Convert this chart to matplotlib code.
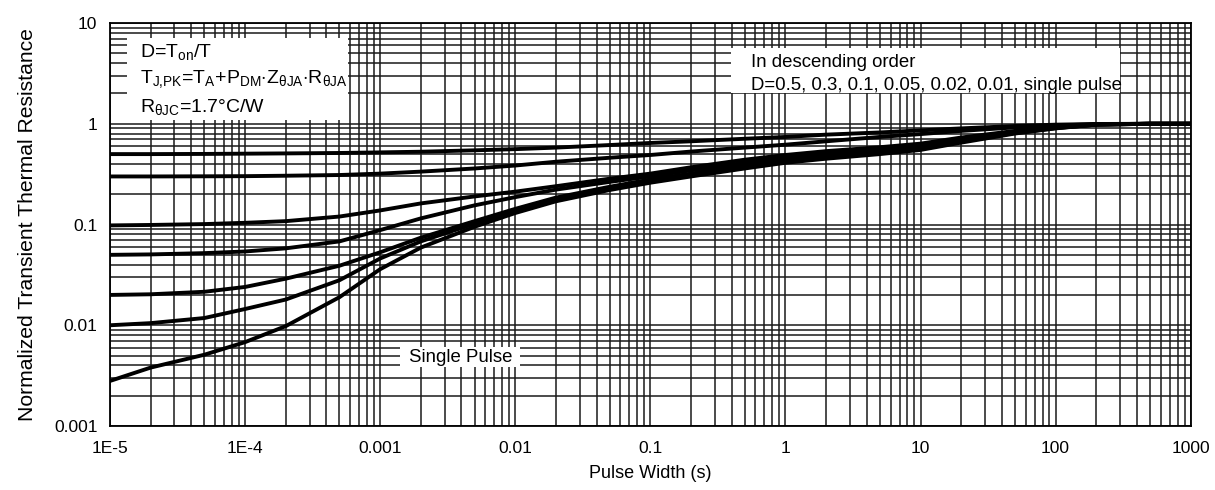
import matplotlib
matplotlib.use("Agg")
import matplotlib.pyplot as plt
from matplotlib.patches import Rectangle
from matplotlib.ticker import FixedLocator, NullFormatter

plt.rcParams['font.family'] = ['Liberation Sans', 'DejaVu Sans']
plt.rcParams['mathtext.fontset'] = 'custom'
plt.rcParams['mathtext.rm'] = 'Liberation Sans'

# pulse width (s)
pulse = [1e-5, 2e-5, 5e-5, 1e-4, 2e-4, 5e-4, 1e-3, 2e-3, 5e-3, 1e-2, 2e-2, 5e-2,
	0.1, 0.2, 0.5, 1, 2, 5, 10, 20, 50, 100, 200, 500, 1000]

# normalized Z, one list per duty cycle
d050 = [0.50, 0.50, 0.502, 0.505, 0.508, 0.513, 0.52, 0.528, 0.545, 0.56, 0.58, 0.615,
	0.645, 0.67, 0.71, 0.74, 0.78, 0.82, 0.86, 0.90, 0.95, 0.98, 0.995, 1.0, 1.0]
d030 = [0.30, 0.30, 0.301, 0.302, 0.305, 0.31, 0.32, 0.335, 0.36, 0.385, 0.42, 0.46,
	0.49, 0.53, 0.58, 0.62, 0.67, 0.74, 0.79, 0.85, 0.92, 0.96, 0.99, 1.0, 1.0]
d010 = [0.098, 0.099, 0.101, 0.104, 0.108, 0.12, 0.138, 0.162, 0.19, 0.212, 0.24, 0.285,
	0.32, 0.37, 0.44, 0.49, 0.535, 0.585, 0.635, 0.73, 0.85, 0.93, 0.99, 1.0, 1.0]
d005 = [0.050, 0.0505, 0.052, 0.054, 0.058, 0.068, 0.088, 0.115, 0.155, 0.187, 0.222, 0.265,
	0.30, 0.345, 0.41, 0.46, 0.50, 0.55, 0.60, 0.70, 0.83, 0.92, 0.985, 1.0, 1.0]
d002 = [0.020, 0.0203, 0.0215, 0.024, 0.029, 0.039, 0.053, 0.074, 0.108, 0.143, 0.185, 0.237,
	0.28, 0.32, 0.39, 0.44, 0.48, 0.53, 0.58, 0.68, 0.82, 0.91, 0.98, 1.0, 1.0]
d001 = [0.010, 0.0105, 0.0118, 0.0145, 0.018, 0.028, 0.046, 0.068, 0.102, 0.137, 0.178, 0.23,
	0.27, 0.31, 0.375, 0.425, 0.465, 0.515, 0.565, 0.665, 0.81, 0.905, 0.98, 1.0, 1.0]
single = [0.0028, 0.0038, 0.0051, 0.0068, 0.0098, 0.019, 0.036, 0.059, 0.095, 0.13, 0.17, 0.22,
	0.26, 0.30, 0.36, 0.41, 0.45, 0.50, 0.55, 0.65, 0.80, 0.90, 0.98, 1.0, 1.0]
curves = [d050, d030, d010, d005, d002, d001, single]

xticks = [1e-5, 1e-4, 1e-3, 1e-2, 0.1, 1, 10, 100, 1000]
xlabels = ['1E-5', '1E-4', '0.001', '0.01', '0.1', '1', '10', '100', '1000']
yticks = [0.001, 0.01, 0.1, 1, 10]
ylabels = ['0.001', '0.01', '0.1', '1', '10']

fig = plt.figure(figsize=(12.15, 4.9), dpi=100)
ax = fig.add_axes([0.0905, 0.1306, 0.8895, 0.8224])

for c in curves:
	ax.plot(pulse, c, color='black', lw=2.8, zorder=4, solid_joinstyle='round')

ax.set_xscale('log')
ax.set_yscale('log')
ax.set_xlim(1e-5, 1000)
ax.set_ylim(0.001, 10)

ax.xaxis.set_major_locator(FixedLocator(xticks))
ax.set_xticklabels(xlabels)
ax.yaxis.set_major_locator(FixedLocator(yticks))
ax.set_yticklabels(ylabels)
ax.xaxis.set_minor_formatter(NullFormatter())
ax.yaxis.set_minor_formatter(NullFormatter())
ax.tick_params(which='both', length=0, labelsize=12.5)
ax.tick_params(axis='x', pad=11)
ax.tick_params(axis='y', pad=9)

ax.grid(True, which='both', color='#1a1a1a', lw=1.1, zorder=1)
ax.set_axisbelow(True)
for s in ax.spines.values():
	s.set_linewidth(1.3)
	s.set_zorder(6)

ax.set_xlabel('Pulse Width (s)', fontsize=13, labelpad=6)
ax.set_ylabel('Normalized Transient Thermal Resistance', fontsize=15.2, labelpad=12)

# white boxes covering the grid
boxes = [(0.0157, 0.759, 0.2043, 0.204), (0.575, 0.826, 0.360, 0.112), (0.268, 0.146, 0.111, 0.050)]
for bx, by, bw, bh in boxes:
	ax.add_patch(Rectangle((bx, by), bw, bh, transform=ax.transAxes,
		facecolor='white', edgecolor='none', zorder=3))

tfs = 14
ax.text(0.028, 0.926, r'D=T$_{\mathregular{on}}$/T', transform=ax.transAxes,
	fontsize=tfs, va='center', zorder=5)
ax.text(0.028, 0.858, r'T$_{\mathregular{J{,}PK}}$=T$_{\mathregular{A}}$+P$_{\mathregular{DM}}$$\cdot$Z$_{\mathregular{θJA}}$$\cdot$R$_{\mathregular{θJA}}$',
	transform=ax.transAxes, fontsize=tfs, va='center', zorder=5)
ax.text(0.028, 0.790, r'R$_{\mathregular{θJC}}$=1.7°C/W', transform=ax.transAxes,
	fontsize=tfs, va='center', zorder=5)

ax.text(0.593, 0.903, 'In descending order', transform=ax.transAxes,
	fontsize=13.4, va='center', zorder=5)
ax.text(0.593, 0.846, 'D=0.5, 0.3, 0.1, 0.05, 0.02, 0.01, single pulse', transform=ax.transAxes,
	fontsize=13.4, va='center', zorder=5)
ax.text(0.277, 0.171, 'Single Pulse', transform=ax.transAxes,
	fontsize=13.4, va='center', zorder=5)

fig.savefig('out.png', dpi=100)
